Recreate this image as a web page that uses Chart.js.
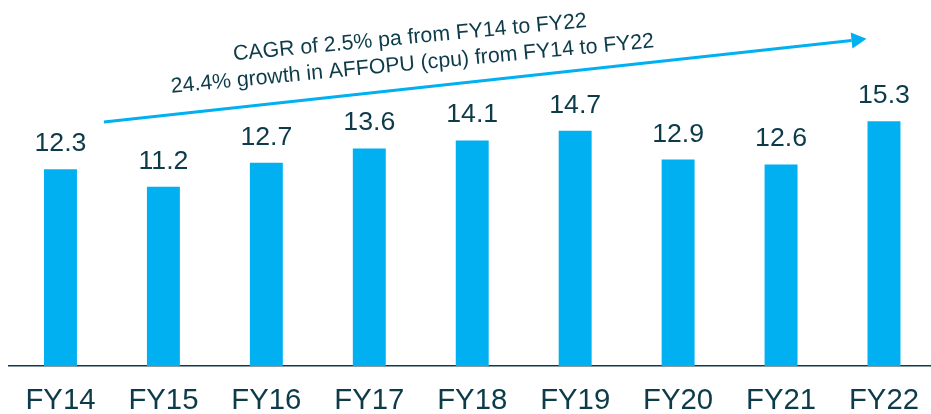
<!DOCTYPE html>
<html>
<head>
<meta charset="utf-8">
<script src="https://cdn.jsdelivr.net/npm/chart.js@4/dist/chart.umd.min.js"></script>
<style>
html,body{margin:0;padding:0;background:#fff;overflow:hidden;width:931px;height:414px;}
#wrap{position:relative;width:936px;height:414px;}
</style>
</head>
<body>
<div id="wrap"><canvas id="c"></canvas></div>
<script>
const categories = ["FY14","FY15","FY16","FY17","FY18","FY19","FY20","FY21","FY22"];
const affopu = [12.3, 11.2, 12.7, 13.6, 14.1, 14.7, 12.9, 12.6, 15.3];
const annotationLines = ["CAGR of 2.5% pa from FY14 to FY22", "24.4% growth in AFFOPU (cpu) from FY14 to FY22"];

const BAR = "#00B0F0";
const TEXT = "#0D3B4A";
const FONT = "'Liberation Sans', Arial, sans-serif";

const valueLabels = {
  id: "valueLabels",
  afterDatasetsDraw(chart) {
    const ctx = chart.ctx;
    const meta = chart.getDatasetMeta(0);
    ctx.save();
    ctx.fillStyle = TEXT;
    ctx.font = "26.7px " + FONT;
    ctx.textAlign = "center";
    ctx.textBaseline = "alphabetic";
    meta.data.forEach((bar, i) => {
      ctx.fillText(affopu[i].toFixed(1), bar.x, bar.y - 18);
    });
    ctx.restore();
  }
};

const arrowNote = {
  id: "arrowNote",
  afterDraw(chart) {
    const ctx = chart.ctx;
    const xs = chart.scales.x, ys = chart.scales.y;
    const x0 = xs.getPixelForValue(0) + 43.5, y0 = ys.getPixelForValue(15.25);
    const x1 = xs.getPixelForValue(8) - 17.5, y1 = ys.getPixelForValue(20.45);
    const ang = Math.atan2(y1 - y0, x1 - x0);
    const headLen = 15, headHalf = 8;
    const bx = x1 - headLen * Math.cos(ang), by = y1 - headLen * Math.sin(ang);
    ctx.save();
    ctx.strokeStyle = BAR;
    ctx.fillStyle = BAR;
    ctx.lineWidth = 3;
    ctx.beginPath();
    ctx.moveTo(x0, y0);
    ctx.lineTo(bx, by);
    ctx.stroke();
    ctx.beginPath();
    ctx.moveTo(x1, y1);
    ctx.lineTo(bx + headHalf * Math.sin(ang), by - headHalf * Math.cos(ang));
    ctx.lineTo(bx - headHalf * Math.sin(ang), by + headHalf * Math.cos(ang));
    ctx.closePath();
    ctx.fill();

    ctx.translate(413, 70);
    ctx.rotate(-5.4 * Math.PI / 180);
    ctx.fillStyle = TEXT;
    ctx.font = "21.3px " + FONT;
    ctx.textAlign = "center";
    ctx.textBaseline = "alphabetic";
    ctx.fillText(annotationLines[0], 0, -26.5);
    ctx.fillText(annotationLines[1], 0, 0);
    ctx.restore();
  }
};

new Chart(document.getElementById("c"), {
  type: "bar",
  data: {
    labels: categories,
    datasets: [{
      data: affopu,
      backgroundColor: BAR,
      borderWidth: 0,
      barPercentage: 0.32,
      categoryPercentage: 1
    }]
  },
  options: {
    responsive: true,
    maintainAspectRatio: false,
    animation: false,
    events: [],
    layout: { padding: { top: 46, left: 9, right: 0, bottom: 0 } },
    plugins: { legend: { display: false }, tooltip: { enabled: false } },
    scales: {
      x: {
        grid: { display: false, drawTicks: false },
        border: { display: true, color: TEXT, width: 1.5 },
        ticks: { color: TEXT, font: { family: FONT, size: 29.3 }, padding: 17, maxRotation: 0, autoSkip: false },
        afterFit(s) { s.height = 48; }
      },
      y: {
        display: false,
        min: 0,
        max: 20
      }
    }
  },
  plugins: [valueLabels, arrowNote]
});
</script>
</body>
</html>
